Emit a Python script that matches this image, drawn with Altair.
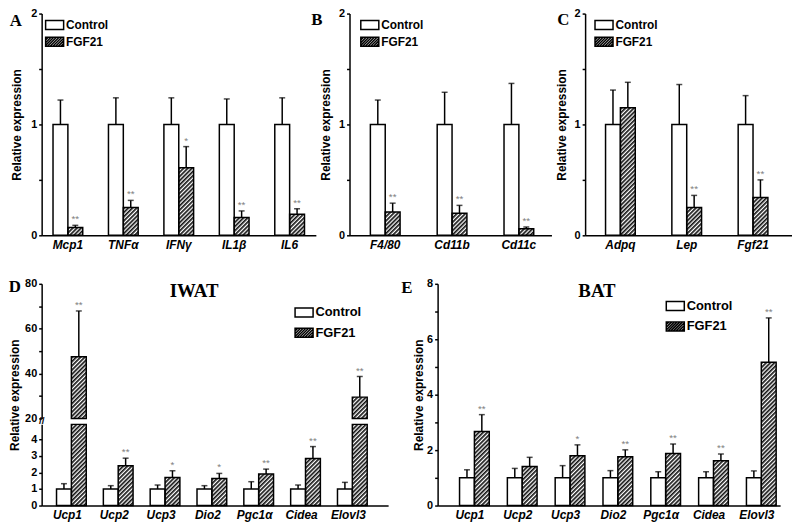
import base64
import altair as alt
import pandas as pd

SANS = "Liberation Sans"
SERIF = "Liberation Serif"

groups = ["Control", "FGF21"]

# ---------------- data ----------------
a_genes = ["Mcp1", "TNFα", "IFNγ", "IL1β", "IL6"]
a_ctrl = [1.0, 1.0, 1.0, 1.0, 1.0]
a_ctrl_err = [0.22, 0.24, 0.24, 0.23, 0.24]
a_fgf = [0.07, 0.25, 0.61, 0.16, 0.19]
a_fgf_err = [0.02, 0.065, 0.19, 0.06, 0.05]
a_sig = ["**", "**", "*", "**", "**"]

b_genes = ["F4/80", "Cd11b", "Cd11c"]
b_ctrl = [1.0, 1.0, 1.0]
b_ctrl_err = [0.22, 0.29, 0.37]
b_fgf = [0.21, 0.20, 0.06]
b_fgf_err = [0.08, 0.07, 0.015]
b_sig = ["**", "**", "**"]

c_genes = ["Adpq", "Lep", "Fgf21"]
c_ctrl = [1.0, 1.0, 1.0]
c_ctrl_err = [0.31, 0.36, 0.26]
c_fgf = [1.15, 0.25, 0.34]
c_fgf_err = [0.23, 0.11, 0.16]
c_sig = ["", "**", "**"]

d_genes = ["Ucp1", "Ucp2", "Ucp3", "Dio2", "Pgc1α", "Cidea", "Elovl3"]
d_ctrl = [1.0, 1.0, 1.0, 1.0, 1.0, 1.0, 1.0]
d_ctrl_err = [0.32, 0.2, 0.24, 0.2, 0.44, 0.24, 0.4]
d_fgf = [47.5, 2.4, 1.7, 1.64, 1.9, 2.84, 29.5]
d_fgf_err = [20.4, 0.46, 0.4, 0.3, 0.3, 0.72, 9.2]
d_sig = ["**", "**", "*", "*", "**", "**", "**"]

e_genes = ["Ucp1", "Ucp2", "Ucp3", "Dio2", "Pgc1α", "Cidea", "Elovl3"]
e_ctrl = [1.0, 1.0, 1.0, 1.0, 1.0, 1.0, 1.0]
e_ctrl_err = [0.29, 0.34, 0.44, 0.26, 0.22, 0.22, 0.25]
e_fgf = [2.67, 1.41, 1.80, 1.76, 1.88, 1.62, 5.17]
e_fgf_err = [0.61, 0.33, 0.39, 0.25, 0.34, 0.24, 1.6]
e_sig = ["**", "", "*", "**", "**", "**", "**"]

panel_letters = ["A", "B", "C", "D", "E"]
panel_titles = ["IWAT", "BAT"]
y_title = "Relative expression"

# ---------------- styles ----------------
HATCH_SVG = (
    '<svg xmlns="http://www.w3.org/2000/svg" width="100%" height="100%">'
    '<defs><pattern id="h" width="3" height="3" patternUnits="userSpaceOnUse" '
    'patternTransform="rotate(45)"><rect width="3" height="3" fill="#ffffff"/>'
    '<rect width="1.7" height="3" fill="#141414"/></pattern></defs>'
    '<rect width="100%" height="100%" fill="url(#h)"/></svg>'
)
HATCH_URL = "data:image/svg+xml;base64," + base64.b64encode(HATCH_SVG.encode()).decode()


def legend_paths(w=1.4, h=0.7, step=0.42):
    box = f"M{-w},{-h}H{w}V{h}H{-w}Z"
    parts = [box]
    c = -w - h + step
    while c < w + h:
        x_lo = max(-w, c - h)
        x_hi = min(w, c + h)
        if x_hi - x_lo > 0.05:
            parts.append(f"M{x_lo:.3f},{c - x_lo:.3f}L{x_hi:.3f},{c - x_hi:.3f}")
        c += step
    return box, "".join(parts)


CTRL_PATH, HATCH_PATH = legend_paths()


def long_table(genes, ctrl, ctrl_err, fgf, fgf_err, sig):
    rows = []
    for i, g in enumerate(genes):
        rows.append({"gene": g, "group": "Control", "value": ctrl[i],
                     "top": ctrl[i] + ctrl_err[i], "sig": ""})
        rows.append({"gene": g, "group": "FGF21", "value": fgf[i],
                     "top": fgf[i] + fgf_err[i], "sig": sig[i]})
    return pd.DataFrame(rows)


def x_axis():
    return alt.Axis(title=None, labelAngle=0, ticks=False, labelFont=SANS, labelFontSize=12,
                    labelFontWeight="bold", labelFontStyle="italic", labelColor="black",
                    labelPadding=4, domainColor="black", domainWidth=1.5)


def y_axis(values, title_pad, every, title=y_title, title_y=None):
    kw = dict(values=values, title=title, grid=False, orient="left", labelOverlap=False,
              labelExpr=f"datum.value % {every} === 0 ? '' + datum.value : ''",
              domainColor="black", domainWidth=1.5, tickColor="black", tickWidth=1.5,
              tickSize=3, labelPadding=2, labelFont=SANS, labelFontSize=11,
              labelFontWeight="bold", labelColor="black", titleFont=SANS, titleFontSize=12,
              titleFontWeight="bold", titleColor="black", titlePadding=title_pad)
    if title_y is not None:
        kw["titleY"] = title_y
    return alt.Axis(**kw)


def bar_layers(df, genes, xscale, yscale, yaxis, base_val, bar_filter=None, err_filter=None):
    x = alt.X("gene:N", sort=genes, scale=xscale, axis=x_axis())
    xo = alt.XOffset("group:N", sort=groups,
                     scale=alt.Scale(domain=groups, paddingInner=0, paddingOuter=0))
    y = alt.Y("value:Q", scale=yscale, axis=yaxis)
    ytop = alt.Y("top:Q", scale=yscale, axis=yaxis)
    base = alt.Chart(df).encode(x=x, xOffset=xo)
    bbase = base.transform_filter(bar_filter) if bar_filter is not None else base
    ebase = base.transform_filter(err_filter) if err_filter is not None else base
    hatch = bbase.transform_filter(alt.datum.group == "FGF21").mark_image(aspect=False).encode(
        y=y, y2=alt.datum(base_val), url=alt.value(HATCH_URL))
    bars = bbase.mark_bar(stroke="black", strokeWidth=1.5).encode(
        y=y, y2=alt.datum(base_val),
        fill=alt.condition("datum.group === 'Control'", alt.value("white"), alt.value("transparent")))
    err = ebase.mark_rule(color="black", strokeWidth=1.5).encode(y=y, y2=alt.Y2("top:Q"))
    cap = ebase.mark_tick(color="black", thickness=1.5, size=6).encode(y=ytop)
    stars = ebase.mark_text(color="#808080", fontSize=10, dy=-6, font=SANS).encode(
        y=ytop, text="sig:N")
    return [hatch, bars, err, cap, stars]


def legend_layer(lx, ly, font_size, row_pad):
    return alt.Chart(pd.DataFrame({"group": groups})).mark_point(
        color="black", opacity=0, strokeWidth=1.5).encode(
        shape=alt.Shape("group:N", sort=groups,
                        scale=alt.Scale(domain=groups, range=[CTRL_PATH, HATCH_PATH]),
                        legend=alt.Legend(title=None, orient="none", legendX=lx, legendY=ly,
                                          symbolSize=169, symbolStrokeWidth=1.5,
                                          symbolStrokeColor="black", symbolFillColor="white",
                                          symbolOpacity=1, labelFont=SANS,
                                          labelFontSize=font_size, labelFontWeight="bold",
                                          labelColor="black", labelOffset=4,
                                          rowPadding=row_pad, padding=0)))


def text_layer(txt, x, y, size, font=SERIF):
    return alt.Chart(pd.DataFrame({"t": [txt]})).mark_text(
        font=font, fontSize=size, fontWeight="bold", color="black",
        align="center", baseline="middle").encode(
        text="t:N", x=alt.value(x), y=alt.value(y))


top_scale = alt.Scale(domain=[0, 2], nice=False)
top_ticks = [0, 0.5, 1, 1.5, 2]

dfA = long_table(a_genes, a_ctrl, a_ctrl_err, a_fgf, a_fgf_err, a_sig)
dfB = long_table(b_genes, b_ctrl, b_ctrl_err, b_fgf, b_fgf_err, b_sig)
dfC = long_table(c_genes, c_ctrl, c_ctrl_err, c_fgf, c_fgf_err, c_sig)
dfD = long_table(d_genes, d_ctrl, d_ctrl_err, d_fgf, d_fgf_err, d_sig)
dfE = long_table(e_genes, e_ctrl, e_ctrl_err, e_fgf, e_fgf_err, e_sig)

A = alt.layer(
    *bar_layers(dfA, a_genes, alt.Scale(paddingInner=0.464, paddingOuter=0.205, align=0.5),
                top_scale, y_axis(top_ticks, 7, 1), 0),
    legend_layer(5.6, 4, 12, 0),
    text_layer(panel_letters[0], -26, 7.5, 17),
).properties(width=277, height=224)

B = alt.layer(
    *bar_layers(dfB, b_genes, alt.Scale(paddingInner=0.556, paddingOuter=0.289, align=0.54),
                top_scale, y_axis(top_ticks, 6, 1), 0),
    legend_layer(13, 4, 12, 0),
    text_layer(panel_letters[1], -33, 7, 17),
).properties(width=204, height=224)

C = alt.layer(
    *bar_layers(dfC, c_genes, alt.Scale(paddingInner=0.55, paddingOuter=0.335, align=0.46),
                top_scale, y_axis(top_ticks, 6, 1), 0),
    legend_layer(11.6, 4, 12, 0),
    text_layer(panel_letters[2], -22, 7, 17),
).properties(width=209, height=224)

# ---- D: broken axis (two y scales stacked) ----
d_xscale = alt.Scale(paddingInner=0.535, paddingOuter=0.467, align=0.34)
lo_scale = alt.Scale(domain=[0, 4.9], range=[224, 142], clamp=True, nice=False)
hi_scale = alt.Scale(domain=[20, 80], range=[136, 0], nice=False)
lo_axis = y_axis([0, 1, 2, 3, 4], 3, 1, title=None)
hi_axis = y_axis([20, 30, 40, 50, 60, 70, 80], 3, 20, title=y_title, title_y=112)

D_lower = alt.layer(
    *bar_layers(dfD, d_genes, d_xscale, lo_scale, lo_axis, 0, err_filter="datum.top <= 4.9"),
    legend_layer(257.6, 21.5, 13, 3.5),
    text_layer(panel_letters[3], -27, 3.5, 17),
    text_layer(panel_titles[0], 154, 7, 19),
    text_layer("//", 0, 139, 10, SANS),
)
D_upper = alt.layer(
    *bar_layers(dfD, d_genes, d_xscale, hi_scale, hi_axis, 20,
                bar_filter="datum.value > 20", err_filter="datum.value > 20"),
)
D = alt.layer(D_lower, D_upper).resolve_scale(y="independent").properties(width=350, height=224)

E = alt.layer(
    *bar_layers(dfE, e_genes, alt.Scale(paddingInner=0.565, paddingOuter=0.364, align=0.63),
                alt.Scale(domain=[0, 8], nice=False),
                y_axis([0, 1, 2, 3, 4, 5, 6, 7, 8], 1, 2), 0),
    legend_layer(232.6, 15, 13, 3.5),
    text_layer(panel_letters[4], -31, 4, 17),
    text_layer(panel_titles[1], 161, 7, 19),
).properties(width=346, height=224)

row1 = alt.hconcat(A, B, C, spacing=34, bounds="flush").resolve_scale(shape="independent")
row2 = alt.hconcat(D, E, spacing=50, bounds="flush").resolve_scale(shape="independent")

chart = alt.vconcat(row1, row2, spacing=28).resolve_scale(shape="independent").properties(
    padding={"left": 0, "top": -3, "right": 0, "bottom": 0}
).configure_view(stroke=None).configure_axis(grid=False)

chart.save("out.html", embed_options={"renderer": "svg", "actions": False})
